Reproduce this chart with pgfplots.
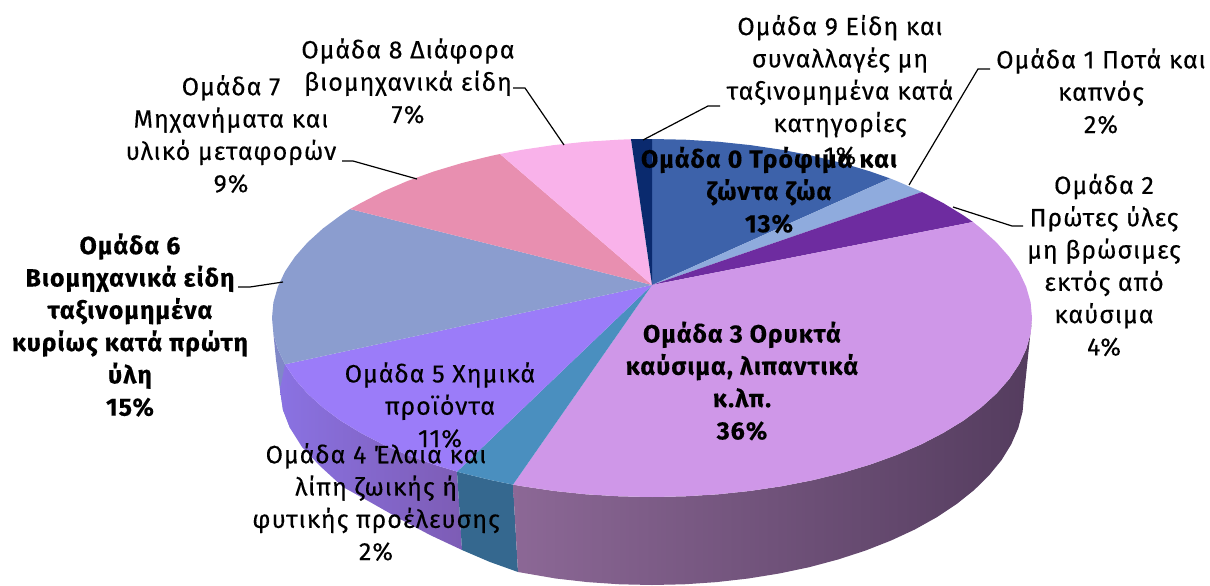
\documentclass[border=0pt]{standalone}
\usepackage{fontspec}
\setmainfont{Fira Sans}[LetterSpace=4,FakeBold=0.3,BoldFeatures={FakeBold=0.3}]
\usepackage{pgfplots}
\pgfplotsset{compat=1.18}
\definecolor{cS0}{HTML}{3D62AA}
\definecolor{cS1}{HTML}{8FABDD}
\definecolor{cS2}{HTML}{6E2CA0}
\definecolor{cS3}{HTML}{CF97E8}
\definecolor{cS4}{HTML}{4A8FBF}
\definecolor{cS5}{HTML}{9B7CF9}
\definecolor{cS6}{HTML}{8B9DCF}
\definecolor{cS7}{HTML}{E88FB0}
\definecolor{cS8}{HTML}{F9B2EA}
\definecolor{cS9}{HTML}{0A2A6E}
\definecolor{w5l}{HTML}{8A72E2}
\definecolor{w5r}{HTML}{7D5CB5}
\definecolor{w4}{HTML}{35688F}
\definecolor{w3l}{HTML}{8C6896}
\definecolor{w3m}{HTML}{70507E}
\definecolor{w3r}{HTML}{543C5E}
\definecolor{w6}{HTML}{8088C8}
\begin{document}
\begin{tikzpicture}
\useasboundingbox (0,0) rectangle (1210pt,586pt);
\begin{axis}[
  width=1210pt,height=586pt,scale only axis,
  xmin=0,xmax=1210,ymin=0,ymax=586,y dir=reverse,
  axis lines=none,clip=false,
  every axis plot/.append style={line width=0pt}]
% walls
\addplot[draw=none,fill=w6] coordinates {(285,364.3)(277.8,349.1)(273.4,333.6)(276,360)(280,390)(283,410)(290,428)(300,420)} --cycle;
\addplot[draw=none,left color=w5l,right color=w5r] coordinates {(457,471.6)(434,464.6)(407.7,455.1)(383.3,444.6)(360.9,433)(340.7,420.7)(322.9,407.5)(307.6,393.6)(294.9,379.2)(285,364.3)(280,390)(283,410)(290,428)(302,447)(320,466)(343,487)(370,502)(400,519)(430,535)(462,550)} --cycle;
\addplot[draw=none,fill=w4] coordinates {(457,471.6)(462,473)(491.4,480.2)(513,484.6)(518,572)(490,562)(462,550)} --cycle;
\addplot[draw=none,left color=w3l,middle color=w3m,right color=w3r] coordinates {(513,484.6)(522,486.2)(553.7,490.9)(586,494.3)(618.9,496.3)(652,497)(685.1,496.3)(718,494.3)(750.3,490.9)(782,486.2)(812.6,480.2)(842,473)(870,464.6)(896.3,455.1)(920.7,444.6)(943.1,433)(963.3,420.7)(981.1,407.5)(996.4,393.6)(1009.1,379.2)(1019.1,364.3)(1026.2,349.1)(1030.6,333.6)(1032,318)(1024,395)(1022.6,411.6)(1018.3,428)(1011.3,444.2)(1001.6,460)(989.1,475.3)(974.2,490)(956.7,504)(937,517.1)(915,529.4)(891.1,540.5)(865.4,550.6)(838,559.5)(809.2,567.2)(779.2,573.5)(748.3,578.5)(716.6,582.1)(684.4,584.3)(652,585)(619.6,584.3)(587.4,582.1)(555.7,578.5)(518,572)} --cycle;
% top
\addplot[draw=none,fill=cS0] coordinates {(652,285)(652,139)(685.1,139.7)(718,141.7)(750.3,145.1)(782,149.8)(812.6,155.8)(842,163)(870,171.4)(890,178.4)} --cycle;
\addplot[draw=none,fill=cS1] coordinates {(652,285)(890,178.4)(896.3,180.9)(920.7,191.4)(922,192)} --cycle;
\addplot[draw=none,fill=cS2] coordinates {(652,285)(922,192)(943.1,203)(963.3,215.3)(973,222)} --cycle;
\addplot[draw=none,fill=cS3] coordinates {(652,285)(973,222)(981.1,228.5)(996.4,242.4)(1009.1,256.8)(1019.1,271.7)(1026.2,286.9)(1030.6,302.4)(1032,318)(1030.6,333.6)(1026.2,349.1)(1019.1,364.3)(1009.1,379.2)(996.4,393.6)(981.1,407.5)(963.3,420.7)(943.1,433)(920.7,444.6)(896.3,455.1)(870,464.6)(842,473)(812.6,480.2)(782,486.2)(750.3,490.9)(718,494.3)(685.1,496.3)(652,497)(618.9,496.3)(586,494.3)(553.7,490.9)(522,486.2)(513,484.6)} --cycle;
\addplot[draw=none,fill=cS4] coordinates {(652,285)(513,484.6)(491.4,480.2)(462,473)(457,471.6)} --cycle;
\addplot[draw=none,fill=cS5] coordinates {(652,285)(457,471.6)(434,464.6)(407.7,455.1)(383.3,444.6)(360.9,433)(340.7,420.7)(322.9,407.5)(307.6,393.6)(294.9,379.2)(285,364.3)} --cycle;
\addplot[draw=none,fill=cS6] coordinates {(652,285)(285,364.3)(277.8,349.1)(273.4,333.6)(272,318)(273.4,302.4)(277.8,286.9)(284.9,271.7)(294.9,256.8)(307.6,242.4)(322.9,228.5)(340.7,215.3)(350,209)} --cycle;
\addplot[draw=none,fill=cS7] coordinates {(652,285)(350,209)(360.9,203)(383.3,191.4)(407.7,180.9)(434,171.4)(462,163)(491.4,155.8)(500,154)} --cycle;
\addplot[draw=none,fill=cS8] coordinates {(652,285)(500,154)(522,149.8)(553.7,145.1)(586,141.7)(618.9,139.7)(631,139.2)} --cycle;
\addplot[draw=none,fill=cS9] coordinates {(652,285)(631,139.2)(652,139)} --cycle;
% leaders
\addplot[black,line width=1.2pt] coordinates {(643,140)(708,106)(720,106)};
\addplot[black,line width=1.2pt] coordinates {(909,185)(978,69)(990,69)};
\addplot[black,line width=1.2pt] coordinates {(953,207)(1012,226)(1023,226)};
\addplot[black,line width=1.2pt] coordinates {(564,145)(525,88)(513,88)};
\addplot[black,line width=1.2pt] coordinates {(417,179)(353,161)(342,161)};
\addplot[black,line width=1.2pt] coordinates {(283,282)(250,287)(238,287)};
% labels
\tikzset{lab/.style={align=center,anchor=center,inner sep=0pt,font=\fontsize{25}{32.3}\selectfont}}
\node[lab] at (axis cs:840,90) {Ομάδα 9 Είδη και\\συναλλαγές μη\\ταξινομημένα κατά\\κατηγορίες\\1\%};
\node[lab] at (axis cs:1101,91) {Ομάδα 1 Ποτά και\\καπνός\\2\%};
\node[lab] at (axis cs:1104,265) {Ομάδα 2\\Πρώτες ύλες\\μη βρώσιμες\\εκτός από\\καύσιμα\\4\%};
\node[lab,font=\fontsize{25}{32.3}\selectfont\bfseries] at (axis cs:742,381) {Ομάδα 3 Ορυκτά\\καύσιμα, λιπαντικά\\κ.λπ.\\36\%};
\node[lab,font=\fontsize{25}{32.3}\selectfont\bfseries] at (axis cs:769,190) {Ομάδα 0 Τρόφιμα και\\ζώντα ζώα\\13\%};
\node[lab] at (axis cs:408,81) {Ομάδα 8 Διάφορα\\βιομηχανικά είδη\\7\%};
\node[lab] at (axis cs:231,134) {Ομάδα 7\\Μηχανήματα και\\υλικό μεταφορών\\9\%};
\node[lab,font=\fontsize{25}{32.3}\selectfont\bfseries] at (axis cs:130,325) {Ομάδα 6\\Βιομηχανικά είδη\\ταξινομημένα\\κυρίως κατά πρώτη\\ύλη\\15\%};
\node[lab] at (axis cs:440,405) {Ομάδα 5 Χημικά\\προϊόντα\\11\%};
\node[lab] at (axis cs:376,502) {Ομάδα 4 Έλαια και\\λίπη ζωικής ή\\φυτικής προέλευσης\\2\%};
\end{axis}
\end{tikzpicture}
\end{document}
